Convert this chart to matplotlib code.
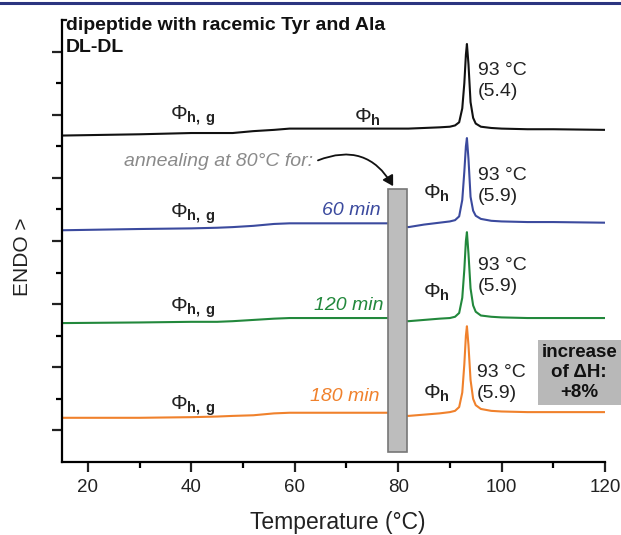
import matplotlib
matplotlib.use("Agg")
import matplotlib.pyplot as plt
from matplotlib.patches import Rectangle, FancyArrowPatch
from matplotlib.lines import Line2D

plt.rcParams['font.family'] = ['Liberation Sans', 'DejaVu Sans']
plt.rcParams['mathtext.fontset'] = 'custom'
plt.rcParams['mathtext.rm'] = 'Liberation Sans'
plt.rcParams['mathtext.bf'] = 'Liberation Sans:bold'

temp = [15, 30, 40, 45, 48, 52, 56, 59, 62, 70, 78, 82, 85, 88, 90, 91, 91.8, 92.4, 92.8,
        93.1, 93.3, 93.6, 94.0, 94.5, 95, 96, 98, 100, 105, 110, 120]

# heat flow (arbitrary, stacked) for each sample
dl_dl = [5.17, 5.19, 5.21, 5.21, 5.21, 5.24, 5.26, 5.28, 5.28, 5.28, 5.28, 5.28, 5.29, 5.30,
         5.31, 5.33, 5.38, 5.60, 6.00, 6.45, 6.62, 6.30, 5.70, 5.45, 5.36, 5.31, 5.29, 5.28,
         5.27, 5.27, 5.26]
min60 = [3.67, 3.69, 3.70, 3.71, 3.72, 3.74, 3.77, 3.78, 3.78, 3.78, 3.78, 3.72, 3.76, 3.79,
         3.81, 3.83, 3.89, 4.15, 4.60, 5.00, 5.13, 4.80, 4.20, 3.98, 3.90, 3.85, 3.82, 3.81,
         3.80, 3.80, 3.79]
min120 = [2.20, 2.21, 2.22, 2.22, 2.23, 2.25, 2.27, 2.28, 2.28, 2.28, 2.28, 2.23, 2.25, 2.27,
          2.28, 2.30, 2.36, 2.60, 3.05, 3.50, 3.64, 3.30, 2.75, 2.48, 2.38, 2.32, 2.30, 2.29,
          2.28, 2.28, 2.28]
min180 = [0.70, 0.70, 0.71, 0.72, 0.73, 0.74, 0.77, 0.78, 0.78, 0.78, 0.78, 0.73, 0.75, 0.77,
          0.79, 0.81, 0.87, 1.10, 1.55, 2.00, 2.15, 1.85, 1.30, 1.00, 0.90, 0.84, 0.81, 0.80,
          0.79, 0.79, 0.79]

series = [dl_dl, min60, min120, min180]
colors = ['#111111', '#3b4a9e', '#22883c', '#f0812c']
times = ['', '60 min', '120 min', '180 min']
peak_labels = ['93 °C\n(5.4)', '93 °C\n(5.9)', '93 °C\n(5.9)', '93 °C\n(5.9)']

# label positions (data units)
phg_y = [5.49, 3.94, 2.45, 0.90]
ph_pos = [(74.0, 5.46), (87.5, 4.26), (87.5, 2.69), (87.5, 1.09)]
peak_pos = [(95.4, 6.04), (95.4, 4.37), (95.4, 2.94), (95.2, 1.25)]
time_pos = [None, (76.6, 3.99), (77.1, 2.48), (76.4, 1.03)]

fig = plt.figure(figsize=(6.21, 5.35), dpi=100)
ax = fig.add_axes([62/621, 73/535, 543/621, 442/535])

for y, c in zip(series, colors):
    ax.plot(temp, y, color=c, lw=1.5, zorder=2)

ax.set_xlim(15, 120)
ax.set_ylim(0, 7)
ax.spines['top'].set_visible(False)
ax.spines['right'].set_visible(False)
ax.spines['left'].set_linewidth(1.6)
ax.spines['bottom'].set_linewidth(1.6)
ax.set_xticks([20, 40, 60, 80, 100, 120])
ax.set_xticks([30, 50, 70, 90, 110], minor=True)
ax.set_yticks([0.5, 1.5, 2.5, 3.5, 4.5, 5.5, 6.5])
ax.set_yticks([1, 2, 3, 4, 5, 6], minor=True)
ax.set_yticklabels([])
ax.tick_params(which='major', length=7, width=1.6, labelsize=13.5, pad=5, colors='#222222')
ax.tick_params(which='minor', length=4.5, width=1.6)
ax.plot([15, 15.8], [7, 7], color='#111111', lw=1.6, clip_on=False)

# annealing marker
ax.add_patch(Rectangle((78.0, 0.16), 3.7, 4.16, facecolor='#bdbdbd',
                       edgecolor='#777777', lw=1.2, zorder=4))
ax.text(63.6, 4.76, 'annealing at 80°C for:', color='#8a8a8a', style='italic',
        fontsize=14, ha='right', va='center')
ax.add_patch(FancyArrowPatch((64.0, 4.76), (79.3, 4.33), connectionstyle='arc3,rad=-0.45',
                             arrowstyle='-|>,head_length=6,head_width=3.5', color='#111111',
                             lw=1.3, zorder=5))

for i in range(4):
    ax.text(40.3, phg_y[i], r'$\Phi_{\mathbf{h,\,g}}$', fontsize=15,
            ha='center', va='center', color='#222222')
    ax.text(ph_pos[i][0], ph_pos[i][1], r'$\Phi_{\mathbf{h}}$', fontsize=15,
            ha='center', va='center', color='#222222')
    ax.text(peak_pos[i][0], peak_pos[i][1], peak_labels[i], fontsize=14,
            ha='left', va='center', color='#222222', linespacing=1.3)
    if time_pos[i]:
        ax.text(time_pos[i][0], time_pos[i][1], times[i], fontsize=14, style='italic',
                ha='right', va='center', color=colors[i])

ax.text(15.7, 6.74, 'dipeptide with racemic Tyr and Ala\nDL-DL', fontsize=14,
        fontweight='bold', ha='left', va='center', linespacing=1.35, color='#111111')

ax.text(115.0, 1.42, 'increase\nof ΔH:\n+8%', fontsize=13.5, fontweight='bold',
        ha='center', va='center', linespacing=1.25, color='#111111', clip_on=False,
        bbox=dict(boxstyle='square,pad=0.2', facecolor='#b8b8b8', edgecolor='none'))

fig.text(338/621, 1 - 523/535, 'Temperature (°C)', fontsize=16.5, color='#222222',
         ha='center', va='center')
fig.text(23/621, 1 - 257/535, 'ENDO >', rotation=90, fontsize=15,
         ha='center', va='center', color='#222222')

fig.add_artist(Line2D([0, 1], [1 - 2.5/535, 1 - 2.5/535], color='#2b3580', lw=2.2))

fig.savefig('out.png', dpi=100)
